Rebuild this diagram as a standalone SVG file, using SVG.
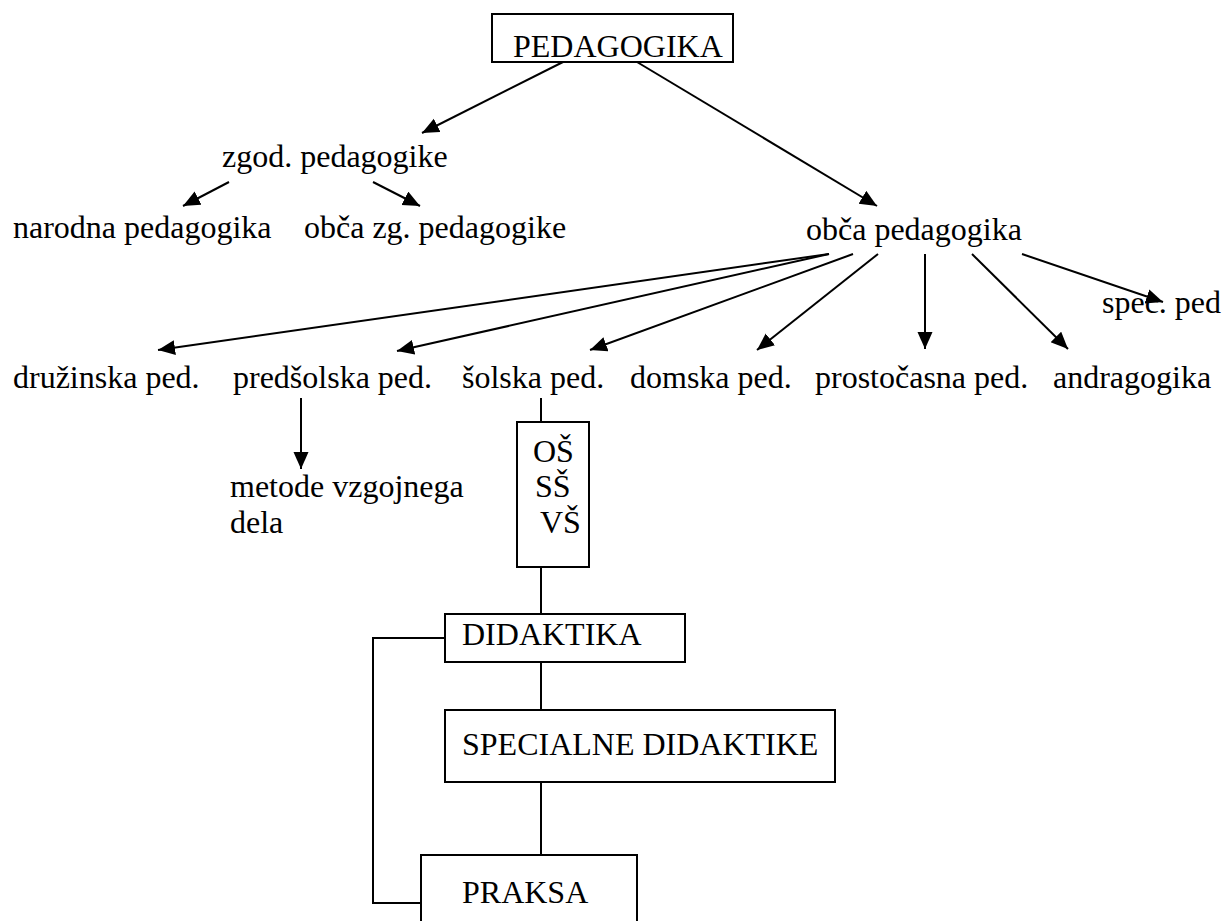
<svg xmlns="http://www.w3.org/2000/svg" width="1231" height="921" viewBox="0 0 1231 921">
<style>
text{font-family:'Liberation Serif','DejaVu Serif',serif;font-size:32px;fill:#000}
.box{fill:#fff;stroke:#000;stroke-width:2}
.c line,.c polyline{stroke:#000;stroke-width:2;fill:none}
.a{marker-end:url(#ah)}
</style>
<defs>
<marker id="ah" markerUnits="userSpaceOnUse" markerWidth="18" markerHeight="16" refX="17" refY="7.5" orient="auto">
<path d="M0,0 L17,7.5 L0,15 z" fill="#000"/>
</marker>
</defs>
<rect width="1231" height="921" fill="#fff"/>
<g class="c" id="connectors">
<line class="a" x1="563" y1="62" x2="422" y2="133"/>
<line class="a" x1="637" y1="62" x2="877" y2="206"/>
<line class="a" x1="229" y1="182" x2="183" y2="206"/>
<line class="a" x1="373" y1="182" x2="420" y2="206"/>
<line class="a" x1="829" y1="254" x2="158" y2="350"/>
<line class="a" x1="829" y1="254" x2="397" y2="351"/>
<line class="a" x1="853" y1="254" x2="590" y2="350"/>
<line class="a" x1="878" y1="254" x2="757" y2="350"/>
<line class="a" x1="925" y1="254" x2="925" y2="349"/>
<line class="a" x1="972" y1="254" x2="1068" y2="349"/>
<line class="a" x1="1022" y1="254" x2="1163" y2="302"/>
<line class="a" x1="301" y1="398" x2="301" y2="469"/>
<line x1="541" y1="398" x2="541" y2="422"/>
<line x1="541" y1="567" x2="541" y2="614"/>
<line x1="541" y1="662" x2="541" y2="710"/>
<line x1="541" y1="782" x2="541" y2="855"/>
<polyline points="445,638 373,638 373,903 421,903"/>
</g>
<g font-family="Liberation Serif, DejaVu Serif, serif">
<g id="n-pedagogika"><rect class="box" x="492" y="14" width="241" height="48"/><text x="513" y="57">PEDAGOGIKA</text></g>
<g id="n-zgod"><text x="222" y="167">zgod. pedagogike</text></g>
<g id="n-narodna"><text x="13" y="238">narodna pedagogika</text></g>
<g id="n-obcazg"><text x="304" y="238">obča zg. pedagogike</text></g>
<g id="n-obca"><text x="806" y="240">obča pedagogika</text></g>
<g id="n-spec"><text x="1102" y="313">spec. ped</text></g>
<g id="n-druzinska"><text x="13" y="388">družinska ped.</text></g>
<g id="n-predsolska"><text x="233" y="388">predšolska ped.</text></g>
<g id="n-solska"><text x="462" y="388">šolska ped.</text></g>
<g id="n-domska"><text x="630" y="388">domska ped.</text></g>
<g id="n-prostocasna"><text x="815" y="388">prostočasna ped.</text></g>
<g id="n-andragogika"><text x="1053" y="388">andragogika</text></g>
<g id="n-metode"><text x="230" y="497">metode vzgojnega</text><text x="230" y="533">dela</text></g>
<g id="n-sole"><rect class="box" x="517" y="422" width="72" height="145"/><text x="533" y="462">OŠ</text><text x="535" y="497">SŠ</text><text x="540" y="533">VŠ</text></g>
<g id="n-didaktika"><rect class="box" x="445" y="614" width="240" height="48"/><text x="462" y="645">DIDAKTIKA</text></g>
<g id="n-specialne"><rect class="box" x="445" y="710" width="390" height="72"/><text x="462" y="755">SPECIALNE DIDAKTIKE</text></g>
<g id="n-praksa"><rect class="box" x="421" y="855" width="216" height="80"/><text x="462" y="903">PRAKSA</text></g>
</g>
</svg>
